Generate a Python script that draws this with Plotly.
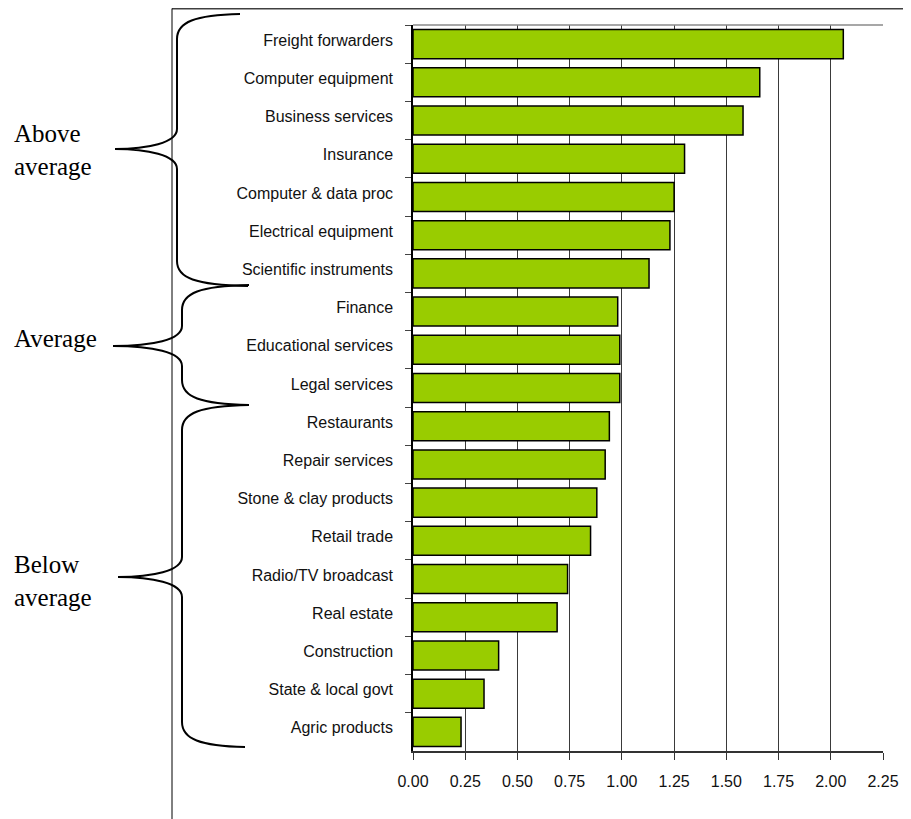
import plotly.graph_objects as go

categories = [
    "Freight forwarders", "Computer equipment", "Business services", "Insurance",
    "Computer & data proc", "Electrical equipment", "Scientific instruments",
    "Finance", "Educational services", "Legal services",
    "Restaurants", "Repair services", "Stone & clay products", "Retail trade",
    "Radio/TV broadcast", "Real estate", "Construction", "State & local govt",
    "Agric products",
]
values = [2.06, 1.66, 1.58, 1.30, 1.25, 1.23, 1.13,
          0.98, 0.99, 0.99,
          0.94, 0.92, 0.88, 0.85, 0.74, 0.69, 0.41, 0.34, 0.23]
x_ticks = [0, 0.25, 0.5, 0.75, 1.0, 1.25, 1.5, 1.75, 2.0, 2.25]
group_labels = ["Above<br>average", "Average", "Below<br>average"]

# page body has an 8px margin; figure is sized/offset to compensate
OFF = 8
W, H = 911 - OFF, 819 - OFF
PLOT_L, PLOT_R, PLOT_T, PLOT_B = 413, 883, 25, 751   # page pixel coords of plot area
L, T = PLOT_L - OFF, PLOT_T - OFF
R, B = W - (PLOT_R - OFF), H - (PLOT_B - OFF)
PW, PH = PLOT_R - PLOT_L, PLOT_B - PLOT_T


def fx(x):
    return (x - PLOT_L) / PW


def fy(y):
    return (PLOT_B - y) / PH


def px(x, y):
    return f"{fx(x):.5f},{fy(y):.5f}"


def brace(top, tip_y, bot, xv, xt, x_top_end, x_bot_end):
    return (f"M {px(x_top_end, top)} "
            f"C {px(xv + 18, top + 1)} {px(xv, top + 8)} {px(xv, top + 25)} "
            f"L {px(xv, tip_y - 20)} "
            f"C {px(xv, tip_y - 6)} {px(xv - 30, tip_y)} {px(xt, tip_y)} "
            f"C {px(xv - 30, tip_y)} {px(xv, tip_y + 6)} {px(xv, tip_y + 20)} "
            f"L {px(xv, bot - 25)} "
            f"C {px(xv, bot - 8)} {px(xv + 18, bot - 1)} {px(x_bot_end, bot)}")


fig = go.Figure(go.Bar(
    x=values, y=categories, orientation="h",
    marker=dict(color="#99CC00", line=dict(color="#000000", width=1.5)),
))

shapes = [
    # top border of plot area
    dict(type="line", xref="x domain", yref="y domain", x0=0, x1=1, y0=1, y1=1,
         line=dict(color="#8a8a8a", width=1.5)),
    # outer frame lines
    dict(type="line", xref="paper", yref="paper",
         x0=fx(172), x1=fx(920), y0=fy(8.5), y1=fy(8.5),
         line=dict(color="#404040", width=2)),
    dict(type="line", xref="paper", yref="paper",
         x0=fx(172), x1=fx(172), y0=fy(8.5), y1=fy(830),
         line=dict(color="#000000", width=1)),
    # braces
    dict(type="path", xref="paper", yref="paper",
         path=brace(14, 149, 286, 177, 115, 240, 248),
         line=dict(color="#000000", width=2)),
    dict(type="path", xref="paper", yref="paper",
         path=brace(285, 346, 405, 182, 113, 249, 249),
         line=dict(color="#000000", width=2)),
    dict(type="path", xref="paper", yref="paper",
         path=brace(405, 577, 747, 182, 118, 249, 245),
         line=dict(color="#000000", width=2)),
]

annotations = []
for text, ypx in zip(group_labels, [150, 338, 581]):
    annotations.append(dict(
        text=text, xref="paper", yref="paper", x=fx(12), y=fy(ypx),
        xanchor="left", yanchor="middle", align="left", showarrow=False,
        font=dict(family="Liberation Serif, Times New Roman, serif", size=25, color="#000000"),
    ))

fig.update_layout(
    width=W, height=H,
    margin=dict(l=L, r=R, t=T, b=B),
    paper_bgcolor="white", plot_bgcolor="white",
    bargap=0.24,
    showlegend=False,
    shapes=shapes,
    annotations=annotations,
    font=dict(family="Liberation Sans, Arial, sans-serif", size=16, color="#111111"),
)
fig.update_xaxes(
    range=[0, 2.25], tickvals=x_ticks, tickformat=".2f",
    showgrid=True, gridcolor="#3a3a3a", gridwidth=1,
    showline=True, linecolor="#333333", linewidth=1.5,
    ticks="outside", ticklen=7, tickcolor="#333333",
    ticklabelstandoff=8, zeroline=False,
)
fig.update_yaxes(
    autorange="reversed", showgrid=False,
    showline=True, linecolor="#000000", linewidth=1.5,
    ticks="outside", tickson="boundaries", ticklen=6, tickcolor="#444444",
    ticklabelstandoff=15, ticklabelshift=4,
)

fig.write_html("out.html")
